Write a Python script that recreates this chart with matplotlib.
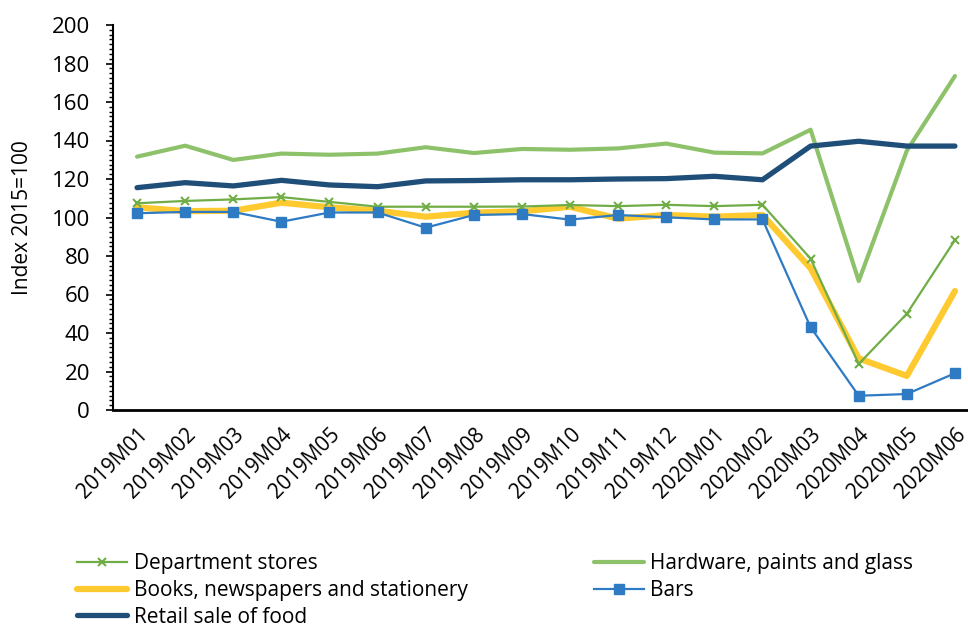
#Recreate retail trade index line chart (2019M01 - 2020M06)
import numpy as np
import matplotlib.pyplot as plt
from matplotlib.ticker import MultipleLocator

plt.rcParams['font.family'] = ['Open Sans', 'DejaVu Sans']

#Data
months = ['2019M01', '2019M02', '2019M03', '2019M04', '2019M05', '2019M06',
          '2019M07', '2019M08', '2019M09', '2019M10', '2019M11', '2019M12',
          '2020M01', '2020M02', '2020M03', '2020M04', '2020M05', '2020M06']
department_stores = [107.4, 108.6, 109.4, 110.6, 108.1, 105.6, 105.6, 105.6, 105.7,
                     106.5, 105.9, 106.6, 105.9, 106.6, 78.6, 23.9, 50.0, 88.3]
hardware = [131.6, 137.3, 129.9, 133.2, 132.6, 133.2, 136.5, 133.5, 135.6,
            135.2, 135.9, 138.4, 133.7, 133.3, 145.6, 67.0, 134.7, 173.5]
books = [105.3, 103.3, 103.5, 107.7, 105.3, 103.5, 100.4, 102.5, 103.2,
         105.6, 99.4, 101.3, 100.4, 101.3, 73.6, 26.8, 17.7, 61.8]
bars = [102.2, 102.9, 102.9, 97.8, 102.6, 102.6, 94.7, 101.3, 101.8,
        98.9, 101.3, 100.1, 99.0, 99.0, 43.0, 7.4, 8.3, 19.1]
food = [115.5, 118.1, 116.4, 119.3, 116.9, 116.0, 119.0, 119.2, 119.6,
        119.6, 120.0, 120.2, 121.4, 119.6, 137.1, 139.6, 137.1, 137.1]

x = np.arange(len(months))

fig = plt.figure(figsize=(9.68, 6.28), dpi=100)
ax = fig.add_axes([113/968, 1 - 410/628, 866/968, 385/628])

h_hw, = ax.plot(x, hardware, color='#8DC26A', lw=3, solid_capstyle='round',
                label='Hardware, paints and glass')
h_food, = ax.plot(x, food, color='#1F4E79', lw=3.8, solid_capstyle='round',
                  label='Retail sale of food')
h_books, = ax.plot(x, books, color='#FFCA30', lw=4.5, solid_capstyle='round',
                   label='Books, newspapers and stationery')
h_dept, = ax.plot(x, department_stores, color='#70AD47', lw=1.6, marker='x',
                  markersize=6, markeredgewidth=1.5, label='Department stores')
h_bars, = ax.plot(x, bars, color='#2E7BC4', lw=1.6, marker='s',
                  markersize=7, label='Bars')

ax.set_xlim(-0.5, len(months) - 0.5)
ax.set_ylim(0, 200)
ax.yaxis.set_major_locator(MultipleLocator(20))
ax.yaxis.set_minor_locator(MultipleLocator(2.5))
ax.tick_params(axis='y', which='major', length=5, width=1.2, labelsize=16, pad=11.5)
ax.tick_params(axis='y', which='minor', length=3, width=1)
ax.set_xticks(x)
ax.set_xticklabels(months, rotation=45, ha='right', rotation_mode='anchor', fontsize=15)
ax.tick_params(axis='x', length=0, pad=10)
ax.set_ylabel('Index 2015=100', fontsize=15)
ax.yaxis.set_label_coords(-80/866, 0.5)

for side in ['top', 'right']:
    ax.spines[side].set_visible(False)
ax.spines['left'].set_linewidth(1.5)
ax.spines['bottom'].set_linewidth(2)

#Legend in two columns under the chart
fig.legend(handles=[h_dept, h_books, h_food, h_hw, h_bars], ncol=2,
           loc='upper left', bbox_to_anchor=(67/968, 1 - 543/628), frameon=False,
           fontsize=15, handlelength=2.4, handletextpad=0.3, columnspacing=6.05,
           labelspacing=0.27, borderpad=0)

plt.savefig('out.png', dpi=100)
